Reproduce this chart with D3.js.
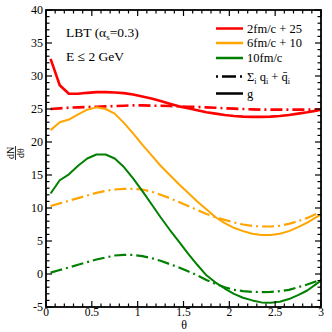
<!DOCTYPE html>
<html><head><meta charset="utf-8">
<script src="https://cdn.jsdelivr.net/npm/d3@7"></script>
<style>body{margin:0;background:#fff}svg{display:block}svg text{font-family:"Liberation Serif","Times New Roman","DejaVu Serif",serif;fill:#000}</style>
</head><body><svg id="c" width="332" height="332"></svg>
<script>
const theta = [0.05,0.15,0.25,0.35,0.45,0.55,0.65,0.75,0.85,0.95,1.05,1.15,1.25,1.35,1.45,1.55,1.65,1.75,1.85,1.95,2.05,2.15,2.25,2.35,2.45,2.55,2.65,2.75,2.85,2.95,3.0];
const red_g   = [32.6,28.6,27.3,27.3,27.45,27.55,27.55,27.5,27.4,27.2,26.9,26.6,26.2,25.8,25.4,25.1,24.8,24.5,24.3,24.1,23.95,23.85,23.8,23.8,23.85,23.95,24.1,24.3,24.5,24.75,24.9];
const red_q   = [25.0,25.1,25.2,25.25,25.3,25.35,25.4,25.45,25.5,25.55,25.55,25.5,25.5,25.45,25.4,25.35,25.3,25.25,25.2,25.1,25.05,25.0,24.95,24.9,24.9,24.9,24.9,24.9,24.9,24.9,24.9];
const orange_g= [21.8,23.0,23.4,24.2,24.9,25.25,25.0,24.3,22.9,21.3,19.6,18.0,16.4,15.0,13.6,12.3,11.0,9.8,8.6,7.7,7.0,6.5,6.1,5.9,5.9,6.1,6.5,7.1,7.8,8.6,9.0];
const orange_q= [10.3,10.7,11.1,11.5,11.9,12.3,12.6,12.8,12.9,12.9,12.8,12.5,12.0,11.5,10.9,10.3,9.7,9.1,8.6,8.2,7.8,7.5,7.3,7.2,7.2,7.3,7.6,8.0,8.5,9.1,9.4];
const green_g = [12.2,14.2,15.1,16.4,17.5,18.1,18.1,17.5,16.2,14.5,12.6,10.6,8.6,6.7,4.9,3.1,1.4,-0.2,-1.3,-2.2,-3.0,-3.6,-4.0,-4.3,-4.35,-4.2,-3.8,-3.2,-2.5,-1.5,-1.0];
const green_q = [0.2,0.6,1.0,1.4,1.8,2.2,2.5,2.8,2.9,2.9,2.7,2.4,2.0,1.5,1.0,0.4,-0.2,-0.9,-1.5,-2.0,-2.4,-2.6,-2.7,-2.75,-2.7,-2.6,-2.4,-2.0,-1.6,-1.1,-0.8];
const xTicks = [0,0.5,1,1.5,2,2.5,3];
const xTickLabels = ["0","0.5","1","1.5","2","2.5","3"];
const yTicks = [-5,0,5,10,15,20,25,30,35,40];
const yTickLabels = ["-5","0","5","10","15","20","25","30","35","40"];
const seriesNames = ["2fm/c + 25","6fm/c + 10","10fm/c"];
const seriesColors = ["#ff0000","#ffa500","#008000"];

const FONT = "Liberation Serif, Times New Roman, DejaVu Serif, serif";
const svg = d3.select("#c");
const L=46,R=321,T=10,B=307;
const x = d3.scaleLinear().domain([0,3]).range([L,R]);
const y = d3.scaleLinear().domain([-5,40]).range([B,T]);

svg.append("clipPath").attr("id","cp").append("rect").attr("x",L).attr("y",T).attr("width",R-L).attr("height",B-T);
const line = d3.line().x((d,i)=>x(theta[i])).y(d=>y(d));
const plot = svg.append("g").attr("clip-path","url(#cp)");
const dash = "12,4,2,4";
const series = [
  {v:red_q,c:seriesColors[0],w:2.6,d:dash},
  {v:orange_q,c:seriesColors[1],w:2.2,d:dash},
  {v:green_q,c:seriesColors[2],w:2.2,d:dash},
  {v:red_g,c:seriesColors[0],w:2.6,d:null},
  {v:orange_g,c:seriesColors[1],w:2.0,d:null},
  {v:green_g,c:seriesColors[2],w:2.0,d:null}
];
series.forEach(s=>{
  plot.append("path").attr("d",line(s.v)).attr("fill","none").attr("stroke",s.c)
    .attr("stroke-width",s.w).attr("stroke-dasharray",s.d).attr("stroke-linejoin","round");
});

const ax = svg.append("g").attr("stroke","#000");
d3.range(0,31).forEach(k=>{
  const t=k/10, major = k%5===0, len = major?6:3.5;
  ax.append("line").attr("x1",x(t)).attr("x2",x(t)).attr("y1",B).attr("y2",B-len).attr("stroke-width",1.2);
  ax.append("line").attr("x1",x(t)).attr("x2",x(t)).attr("y1",T).attr("y2",T+len).attr("stroke-width",1.2);
});
d3.range(-5,41).forEach(t=>{
  const major = t%5===0, len = major?6:3.5;
  ax.append("line").attr("y1",y(t)).attr("y2",y(t)).attr("x1",L).attr("x2",L+len).attr("stroke-width",1.2);
  ax.append("line").attr("y1",y(t)).attr("y2",y(t)).attr("x1",R).attr("x2",R-len).attr("stroke-width",1.2);
});
svg.append("rect").attr("x",L).attr("y",T).attr("width",R-L).attr("height",B-T).attr("fill","none").attr("stroke","#000").attr("stroke-width",1.8);

const txt = (g)=>g.append("text").attr("font-family",FONT).attr("fill","#000");
xTicks.forEach((t,i)=>{
  txt(svg).attr("x",x(t)).attr("y",316).attr("text-anchor","middle").attr("font-size",11.5).text(xTickLabels[i]);
});
yTicks.forEach((t,i)=>{
  txt(svg).attr("x",43).attr("y",y(t)+4).attr("text-anchor","end").attr("font-size",12).text(yTickLabels[i]);
});
txt(svg).attr("x",184).attr("y",329.3).attr("text-anchor","middle").attr("font-size",12).text("θ");

const yl = svg.append("g").attr("transform","translate(15.5,153) rotate(-90)");
txt(yl).attr("x",0).attr("y",-2).attr("text-anchor","middle").attr("font-size",10).text("dN");
yl.append("line").attr("x1",-7).attr("x2",7).attr("y1",0).attr("y2",0).attr("stroke","#000").attr("stroke-width",0.8);
txt(yl).attr("x",0).attr("y",8).attr("text-anchor","middle").attr("font-size",10).text("dθ");

const t1 = txt(svg).attr("x",66).attr("y",36.5).attr("font-size",13.5);
t1.append("tspan").text("LBT (α");
t1.append("tspan").attr("font-size",9).attr("dy",3).text("s");
t1.append("tspan").attr("dy",-3).text("=0.3)");
txt(svg).attr("x",66).attr("y",60.5).attr("font-size",13.5).text("E ≤ 2 GeV");

const ly = [28.5,43,58,76.5,93.5];
const lg = svg.append("g");
seriesNames.forEach((n,i)=>{
  lg.append("line").attr("x1",216).attr("x2",243).attr("y1",ly[i]).attr("y2",ly[i]).attr("stroke",seriesColors[i]).attr("stroke-width",2.5);
  txt(lg).attr("x",247).attr("y",ly[i]+4).attr("font-size",12.5).text(n);
});
lg.append("line").attr("x1",216).attr("x2",243).attr("y1",ly[3]).attr("y2",ly[3]).attr("stroke","#000").attr("stroke-width",2.5).attr("stroke-dasharray","2,4,14,4,2");
const st = txt(lg).attr("x",247).attr("y",ly[3]+4).attr("font-size",12.5);
st.append("tspan").text("Σ");
st.append("tspan").attr("font-size",8).attr("dy",3).text("i");
st.append("tspan").attr("dy",-3).text(" q");
st.append("tspan").attr("font-size",8).attr("dy",3).text("i");
st.append("tspan").attr("dy",-3).text(" + q\u0304");
st.append("tspan").attr("font-size",8).attr("dy",3).text("i");
lg.append("line").attr("x1",216).attr("x2",243).attr("y1",ly[4]).attr("y2",ly[4]).attr("stroke","#000").attr("stroke-width",2.5);
txt(lg).attr("x",247).attr("y",ly[4]+4).attr("font-size",12.5).text("g");
</script></body></html>
